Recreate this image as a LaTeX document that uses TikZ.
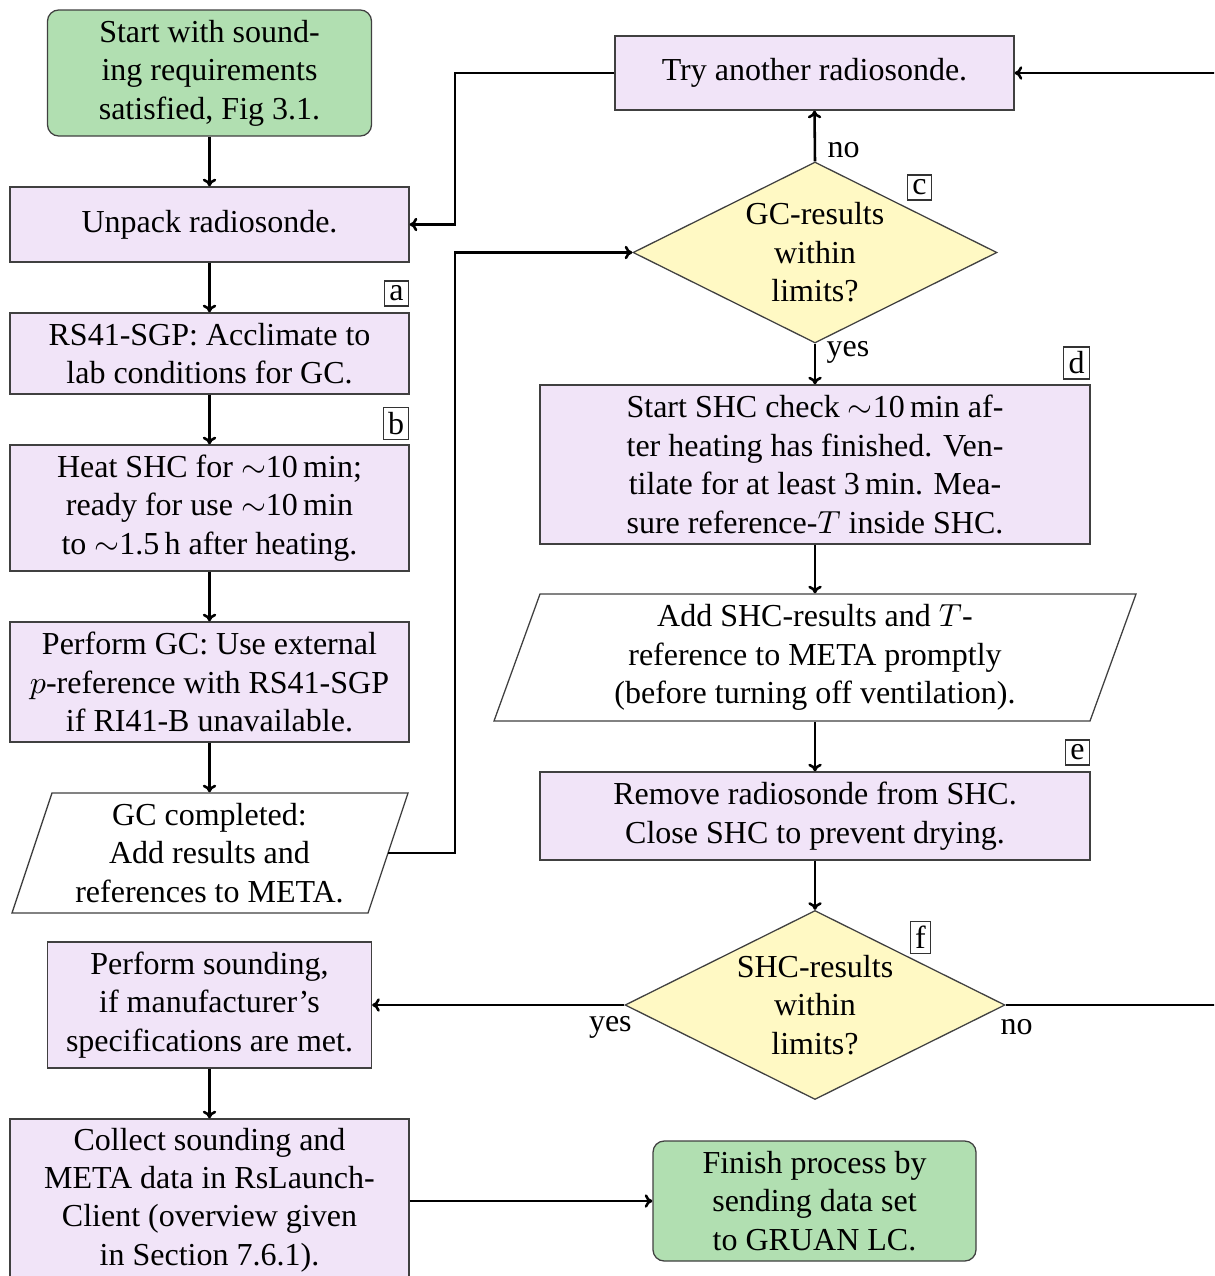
\documentclass[tikz,border=0pt]{standalone}
\usepackage{fontspec}
\setmainfont{Liberation Serif}
\usetikzlibrary{shapes.geometric,calc,arrows.meta}
\definecolor{boxpurple}{RGB}{241,228,248}
\definecolor{boxgreen}{RGB}{177,223,177}
\definecolor{boxyellow}{RGB}{255,249,196}
\newcommand\pxl{0.3125pt}
\begin{document}
\begin{tikzpicture}[x=0.3125pt,y=-0.3125pt,
  proc/.style={draw=black!75, thin, fill=boxpurple, align=center, inner sep=0pt},
  term/.style={proc, fill=boxgreen, rounded corners=3.5pt},
  dia/.style={diamond, draw=black!75, thin, fill=boxyellow, inner sep=0pt},
  txt/.style={align=center, inner sep=0pt},
  tag/.style={draw=black!80, thin, inner sep=1.5pt},
  conn/.style={thick, -{To[length=2.4pt,width=4.2pt]}},
  lbl/.style={inner sep=0pt}]
\useasboundingbox (0,0) rectangle (1214,1276);
\clip (0,0) rectangle (1214,1276);

% left column
\node[term, minimum width=324*\pxl, minimum height=126*\pxl] (start) at (209.5,73)
  {Start with sound-\\ing requirements\\satisfied, Fig 3.1.};
\node[proc, minimum width=399*\pxl, minimum height=75*\pxl] (unpack) at (209.5,224.5)
  {Unpack radiosonde.};
\node[proc, minimum width=399*\pxl, minimum height=81*\pxl] (accl) at (209.5,353.5)
  {RS41-SGP: Acclimate to\\lab conditions for GC.};
\node[proc, minimum width=399*\pxl, minimum height=126*\pxl] (heat) at (209.5,508)
  {Heat SHC for $\sim$10\,min;\\ready for use $\sim$10\,min\\to $\sim$1.5\,h after heating.};
\node[proc, minimum width=399*\pxl, minimum height=120*\pxl] (gc) at (209.5,682)
  {Perform GC: Use external\\$p$-reference with RS41-SGP\\if RI41-B unavailable.};
\coordinate (gcdonec) at (209.5,853);
\draw[draw=black!75, thin, fill=white] ($(gcdonec)+(-157.5,-60)$) -- ($(gcdonec)+(198.5,-60)$)
  -- ($(gcdonec)+(158.5,60)$) -- ($(gcdonec)+(-197.5,60)$) -- cycle;
\node[txt, minimum width=356*\pxl, minimum height=120*\pxl] (gcdone) at (gcdonec)
  {GC completed:\\Add results and\\references to META.};
\coordinate (gcdoneR) at ($(gcdonec)+(178.5,0)$);
\node[proc, minimum width=324*\pxl, minimum height=126*\pxl] (sound) at (209.5,1005)
  {Perform sounding,\\if manufacturer's\\specifications are met.};
\node[proc, minimum width=399*\pxl, minimum height=162*\pxl] (collect) at (209.5,1200)
  {Collect sounding and\\META data in RsLaunch-\\Client (overview given\\in Section 7.6.1).};

% right column
\node[proc, minimum width=399*\pxl, minimum height=74*\pxl] (try) at (814.5,73)
  {Try another radiosonde.};
\node[dia, minimum width=364*\pxl, minimum height=181*\pxl] (gcr) at (815,252.5) {};
\node[txt] at (gcr) {GC-results\\within\\limits?};
\node[proc, minimum width=550*\pxl, minimum height=159*\pxl] (shc) at (815,464.5)
  {Start SHC check $\sim$10\,min af-\\ter heating has finished. Ven-\\tilate for at least 3\,min. Mea-\\sure reference-$T$ inside SHC.};
\coordinate (addc) at (815,657.5);
\draw[draw=black!75, thin, fill=white] ($(addc)+(-275,-63.5)$) -- ($(addc)+(321,-63.5)$)
  -- ($(addc)+(275,63.5)$) -- ($(addc)+(-321,63.5)$) -- cycle;
\node[txt, minimum width=550*\pxl, minimum height=127*\pxl] (addshc) at (addc)
  {Add SHC-results and $T$-\\reference to META promptly\\(before turning off ventilation).};
\node[proc, minimum width=550*\pxl, minimum height=88*\pxl] (remove) at (815,816)
  {Remove radiosonde from SHC.\\Close SHC to prevent drying.};
\node[dia, minimum width=380*\pxl, minimum height=189*\pxl] (shcr) at (815,1005) {};
\node[txt] at (shcr) {SHC-results\\within\\limits?};
\node[term, minimum width=323*\pxl, minimum height=120*\pxl] (finish) at (814.5,1201)
  {Finish process by\\sending data set\\to GRUAN LC.};

% tags
\node[tag] (ta) at (396.5,293.5) {a};
\node[tag] (tb) at (396,423.5) {b};
\node[tag] (tc) at (919.5,187.5) {c};
\node[tag] (td) at (1076.5,363) {d};
\node[tag] (te) at (1077.5,752.5) {e};
\node[tag] (tf) at (920.5,937.5) {f};

% connectors
\coordinate (busx) at (455,500);
\draw[conn] (start) -- (unpack);
\draw[conn] (unpack) -- (accl);
\draw[conn] (accl) -- (heat);
\draw[conn] (heat) -- (gc);
\draw[conn] (gc) -- (gcdone);
\draw[conn] (gcdoneR) -- (gcdoneR -| busx) |- (gcr.west);
\draw[conn] (try.west) -- (try.west -| busx) |- (unpack.east);
\draw[conn] (gcr.north) -- (try.south);
\node[lbl, anchor=west] (lno1) at ($(gcr.north)+(12,-11)$) {no};
\draw[conn] (gcr.south) -- (shc.north);
\node[lbl, anchor=west] (lyes1) at ($(gcr.south)+(11,9)$) {yes};
\draw[conn] (shc) -- (addshc);
\draw[conn] (addshc) -- (remove);
\draw[conn] (remove) -- (shcr.north);
\draw[conn] (shcr.west) -- (sound.east);
\node[lbl] (lyes2) at ($(shcr.west)+(-14,22)$) {yes};
\coordinate (rightend) at ($(shcr.east)+(260,0)$);
\draw[conn] (shcr.east) -- (rightend) |- (try.east);
\node[lbl] (lno2) at ($(shcr.east)+(11,22)$) {no};
\draw[conn] (sound) -- (collect);
\draw[conn] (finish.west -| collect.east) -- (finish.west);
\end{tikzpicture}
\end{document}
